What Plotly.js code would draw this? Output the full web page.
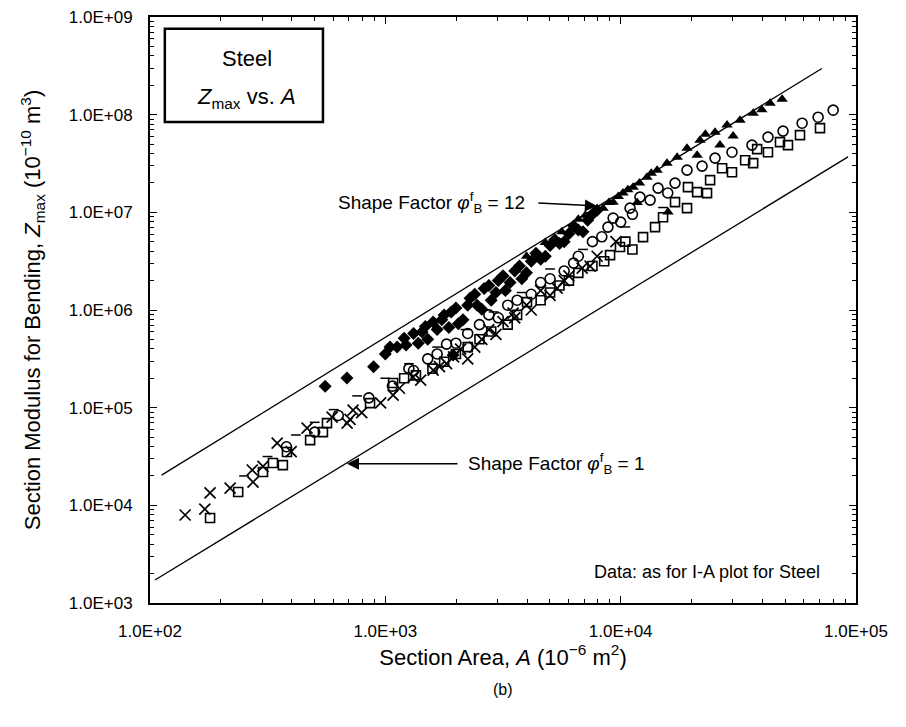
<!DOCTYPE html>
<html>
<head>
<meta charset="utf-8">
<script src="https://cdn.plot.ly/plotly-3.0.1.min.js"></script>
<style>html,body{margin:0;padding:0;background:#fff;}</style>
</head>
<body>
<div id="chart" style="width:906px;height:727px;"></div>
<script>
// ---- data ----
const xTickVals = [1e2, 1e3, 1e4, 1e5];
const xTickText = ["1.0E+02", "1.0E+03", "1.0E+04", "1.0E+05"];
const yTickVals = [1e3, 1e4, 1e5, 1e6, 1e7, 1e8, 1e9];
const yTickText = ["1.0E+03", "1.0E+04", "1.0E+05", "1.0E+06", "1.0E+07", "1.0E+08", "1.0E+09"];

const upperLineA = [112, 71600];
const upperLineZ = [2.04e4, 2.97e8];
const lowerLineA = [105, 92500];
const lowerLineZ = [1718, 3.70e7];

const diamondA = [555, 687, 891, 1000, 1122, 1225, 1318, 1432, 1596, 1514, 1778, 1862, 1995, 2138, 2291, 2455, 2630, 2818, 3020, 3236, 3548, 3802, 4169, 4571, 5012, 5495, 6026, 6607, 7244, 7943, 1941,
  1047, 1202, 1380, 1479, 1660, 1738, 1905, 2042, 2239, 2399, 2570, 2754, 2951, 3162, 3388, 3715, 3981, 4365, 4786, 5248, 5754, 6310, 6918, 7586];
const diamondZ = [1.66e5, 2.01e5, 2.63e5, 3.55e5, 4.17e5, 4.38e5, 5.75e5, 5.94e5, 7.52e5, 5.01e5, 8.91e5, 6.61e5, 1.05e6, 7.94e5, 1.32e6, 1.12e6, 1.66e6, 1.26e6, 2.0e6, 1.58e6, 2.51e6, 2.09e6, 3.16e6, 3.31e6, 4.57e6, 4.79e6, 6.03e6, 6.61e6, 8.32e6, 1.05e7, 3.47e5,
  4.17e5, 5.13e5, 4.57e5, 6.76e5, 6.31e5, 7.94e5, 9.55e5, 7.24e5, 1.12e6, 1.45e6, 1.02e6, 1.78e6, 1.51e6, 2.24e6, 1.91e6, 2.82e6, 2.40e6, 3.80e6, 3.55e6, 5.25e6, 5.01e6, 7.24e6, 6.31e6, 9.55e6];

const triangleA = [3981, 4786, 5623, 6607, 8414, 9290, 10230, 11300, 12940, 14290, 15740, 17380, 19140, 21130, 21730, 25180, 26420, 28310, 30060, 32140, 36560, 43150, 48530, 15890,
  7079, 7762, 8913, 9772, 10720, 12020, 13490, 22910, 39810, 11750];
const triangleZ = [3.55e6, 4.90e6, 6.31e6, 8.51e6, 1.104e7, 1.271e7, 1.574e7, 1.811e7, 2.291e7, 2.704e7, 3.19e7, 3.67e7, 4.54e7, 3.85e7, 5.48e7, 6.62e7, 4.88e7, 7.82e7, 6.03e7, 8.79e7, 1.035e8, 1.312e8, 1.442e8, 1.005e7,
  9.33e6, 1.05e7, 1.26e7, 1.45e7, 1.70e7, 2.0e7, 2.51e7, 6.31e7, 1.12e8, 1.26e7];

const circleA = [380, 501, 631, 851, 1072, 1318, 1660, 1995, 2512, 3020, 3631, 4169, 5012, 5754, 6607, 7586, 8831, 9290, 10960, 12080, 13340, 14420, 17020, 19140, 22180, 25180, 29720, 36140, 42270, 48980, 59020, 69020, 79980,
  1259, 1514, 1820, 2239, 2754, 3311, 4571, 6310, 8318, 10000, 11220, 15850];
const circleZ = [3.98e4, 5.62e4, 8.32e4, 1.26e5, 1.66e5, 2.40e5, 3.55e5, 4.57e5, 7.08e5, 8.32e5, 1.26e6, 1.45e6, 2.09e6, 2.51e6, 3.55e6, 5.01e6, 7.06e6, 8.73e6, 1.104e7, 1.432e7, 1.334e7, 1.770e7, 1.991e7, 2.704e7, 2.972e7, 3.59e7, 4.13e7, 4.88e7, 5.89e7, 6.78e7, 8.18e7, 9.42e7, 1.112e8,
  2.51e5, 3.16e5, 4.47e5, 5.75e5, 8.91e5, 1.12e6, 1.91e6, 3.02e6, 5.62e6, 7.94e6, 9.55e6, 1.58e7];

const squareA = [180, 237, 302, 333, 367, 382, 479, 543, 565, 861, 1079, 1349, 1778, 2239, 2818, 3311, 4000, 4571, 5495, 6607, 7586, 9016, 9931, 12450, 14000, 17020, 19140, 19320, 21130, 23280, 23990, 26980, 29720, 33810, 36560, 38020, 42270, 47530, 51400, 57810, 70310,
  1202, 1585, 1995, 2512, 3631, 5012, 6026, 8511, 10470, 11220, 15140];
const squareZ = [7410, 13680, 21930, 27100, 25820, 35160, 46560, 56230, 69500, 1.114e5, 1.786e5, 2.14e5, 2.95e5, 4.17e5, 6.03e5, 7.08e5, 1.205e6, 1.26e6, 1.78e6, 2.40e6, 2.82e6, 3.65e6, 4.41e6, 5.57e6, 7.06e6, 1.271e7, 1.104e7, 1.811e7, 1.611e7, 1.574e7, 2.138e7, 2.831e7, 2.576e7, 3.42e7, 3.19e7, 4.44e7, 4.13e7, 5.24e7, 4.88e7, 6.17e7, 7.28e7,
  2.0e5, 2.51e5, 3.55e5, 5.01e5, 8.91e5, 1.51e6, 2.0e6, 3.16e6, 5.01e6, 4.17e6, 8.91e6];

const crossA = [141, 171, 180, 219, 272, 274, 347, 465, 594, 688, 729, 794, 955, 1079, 1312, 1596, 1820, 2089, 2399, 2754, 3162, 3490, 3981, 4571, 5370, 6026, 6860, 7943, 9550,
  1148, 1413, 1698, 1950, 2239, 2570, 2951, 3548, 4169, 5012, 5754, 7413, 708, 398, 302];
const crossZ = [7960, 9160, 13400, 15000, 23000, 17300, 43400, 61800, 80100, 69500, 94400, 8.91e4, 1.12e5, 1.346e5, 2.056e5, 2.426e5, 2.82e5, 3.98e5, 4.17e5, 6.31e5, 7.59e5, 9.29e5, 1.12e6, 1.58e6, 1.675e6, 2.24e6, 2.69e6, 3.55e6, 5.01e6,
  1.58e5, 1.91e5, 2.63e5, 3.31e5, 3.16e5, 5.01e5, 5.62e5, 8.32e5, 1.0e6, 1.41e6, 2.0e6, 2.82e6, 7.59e4, 3.55e4, 2.51e4];

const dashA = [251, 316, 417, 501, 603, 759, 1000, 1259, 1660, 2188, 2884, 3802, 5012, 6918, 10470, 15140];
const dashZ = [2.0e4, 3.16e4, 5.25e4, 7.08e4, 9.55e4, 1.32e5, 2.0e5, 2.82e5, 4.17e5, 6.31e5, 9.55e5, 1.51e6, 2.63e6, 4.17e6, 7.08e6, 1.12e7];

// minor tick positions (digits 2..9 of each decade)
function minorTicks(lo, hi) {
  const out = [];
  for (let e = lo; e < hi; e++) for (let d = 2; d <= 9; d++) out.push(d * Math.pow(10, e));
  return out;
}

// ---- traces ----
const traces = [
  {x: upperLineA, y: upperLineZ, mode: 'lines', line: {color: '#000', width: 1.3}, hoverinfo: 'skip'},
  {x: lowerLineA, y: lowerLineZ, mode: 'lines', line: {color: '#000', width: 1.3}, hoverinfo: 'skip'},
  {x: dashA, y: dashZ, mode: 'markers', marker: {symbol: 'line-ew-open', size: 7, color: '#000', line: {color: '#000', width: 1.5}}},
  {x: squareA, y: squareZ, mode: 'markers', marker: {symbol: 'square-open', size: 9, color: '#000', line: {color: '#000', width: 1.6}}},
  {x: circleA, y: circleZ, mode: 'markers', marker: {symbol: 'circle-open', size: 10, color: '#000', line: {color: '#000', width: 1.6}}},
  {x: crossA, y: crossZ, mode: 'markers', marker: {symbol: 'x-thin-open', size: 11, color: '#000', line: {color: '#000', width: 1.7}}},
  {x: diamondA, y: diamondZ, mode: 'markers', marker: {symbol: 'diamond', size: 10, color: '#000'}},
  {x: triangleA, y: triangleZ, mode: 'markers', marker: {symbol: 'triangle-up', size: 10, color: '#000'}}
];

const fontFam = 'Liberation Sans, Arial, Helvetica, sans-serif';

const layout = {
  width: 906, height: 727,
  margin: {l: 150, r: 50, t: 17, b: 124},
  paper_bgcolor: '#fff', plot_bgcolor: '#fff',
  showlegend: false,
  font: {family: fontFam, color: '#000', size: 17},
  xaxis: {
    type: 'log', range: [2, 5],
    tickmode: 'array', tickvals: xTickVals, ticktext: xTickText,
    ticks: 'inside', ticklen: 7, tickwidth: 1, tickcolor: '#000',
    minor: {tickmode: 'array', tickvals: minorTicks(2, 5), ticks: 'inside', ticklen: 4, tickwidth: 1, tickcolor: '#000', showgrid: false},
    showline: true, linecolor: '#000', linewidth: 2, mirror: 'allticks',
    showgrid: false, zeroline: false,
    tickfont: {size: 17, family: fontFam},
    ticklabelstandoff: 12,
    title: {text: 'Section Area, <i>A</i> (10<sup>−6</sup> m<sup>2</sup>)', font: {size: 22, family: fontFam}, standoff: 6}
  },
  yaxis: {
    type: 'log', range: [3, 9],
    tickmode: 'array', tickvals: yTickVals, ticktext: yTickText,
    ticks: 'inside', ticklen: 7, tickwidth: 1, tickcolor: '#000',
    minor: {tickmode: 'array', tickvals: minorTicks(3, 9), ticks: 'inside', ticklen: 4, tickwidth: 1, tickcolor: '#000', showgrid: false},
    showline: true, linecolor: '#000', linewidth: 2, mirror: 'allticks',
    showgrid: false, zeroline: false,
    tickfont: {size: 17, family: fontFam},
    ticklabelstandoff: 12,
    title: {text: 'Section Modulus for Bending, <i>Z</i><sub>max</sub> (10<sup>−10</sup> m<sup>3</sup>)', font: {size: 22, family: fontFam}, standoff: 22}
  },
  shapes: [
    {type: 'rect', xref: 'paper', yref: 'paper', x0: 0.021, x1: 0.245, y0: 0.821, y1: 0.980, line: {color: '#000', width: 2.5}, fillcolor: '#fff'}
  ],
  annotations: [
    {xref: 'paper', yref: 'paper', x: 0.137, y: 0.930, xanchor: 'center', yanchor: 'middle', text: 'Steel', showarrow: false, font: {size: 22}},
    {xref: 'paper', yref: 'paper', x: 0.137, y: 0.862, xanchor: 'center', yanchor: 'middle', text: '<i>Z</i><sub>max</sub> vs. <i>A</i>', showarrow: false, font: {size: 22}},
    {xref: 'paper', yref: 'paper', x: 0.534, y: 0.683, xanchor: 'right', yanchor: 'middle', text: 'Shape Factor <i>φ</i><sup>f</sup><sub>B</sub> = 12', showarrow: false, font: {size: 19}},
    {xref: 'paper', yref: 'paper', x: 0.633, y: 0.6775, text: '', showarrow: true, ax: -60, ay: -3, arrowhead: 2, arrowsize: 1.6, arrowwidth: 1.5, arrowcolor: '#000'},
    {xref: 'paper', yref: 'paper', x: 0.447, y: 0.2375, xanchor: 'left', yanchor: 'middle', text: 'Shape Factor <i>φ</i><sup>f</sup><sub>B</sub> = 1', showarrow: false, font: {size: 19}},
    {xref: 'paper', yref: 'paper', x: 0.279, y: 0.2375, text: '', showarrow: true, ax: 112, ay: 0, arrowhead: 2, arrowsize: 1.6, arrowwidth: 1.5, arrowcolor: '#000'},
    {xref: 'paper', yref: 'paper', x: 0.952, y: 0.053, xanchor: 'right', yanchor: 'middle', text: 'Data: as for I-A plot for Steel', showarrow: false, font: {size: 18}},
    {xref: 'paper', yref: 'paper', x: 0.5, y: -0.13, xanchor: 'center', yanchor: 'top', text: '(b)', showarrow: false, font: {size: 16}}
  ]
};

Plotly.newPlot('chart', traces, layout, {displayModeBar: false, staticPlot: true});
</script>
</body>
</html>
